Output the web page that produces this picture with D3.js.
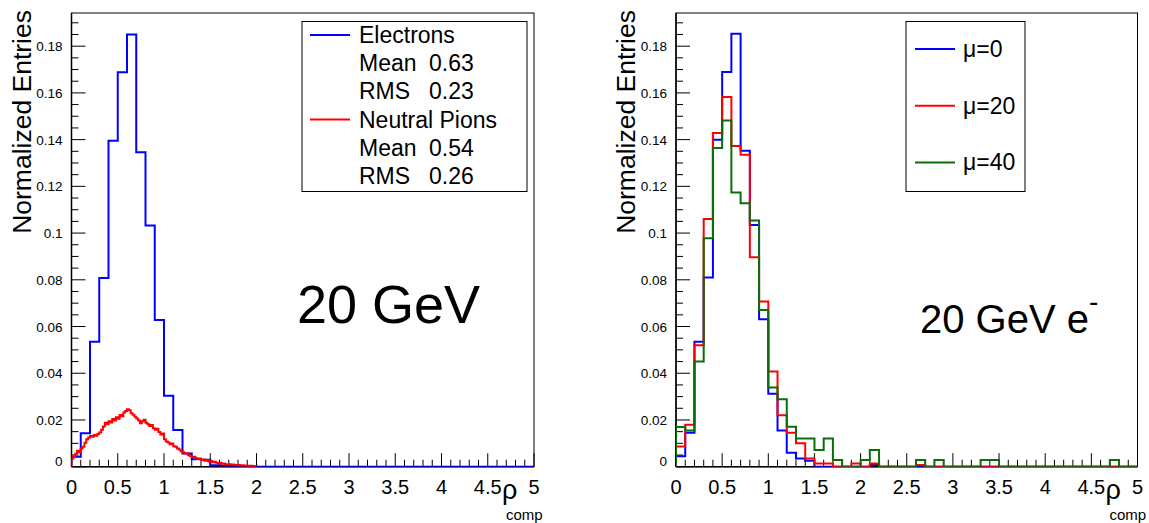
<!DOCTYPE html>
<html>
<head>
<meta charset="utf-8">
<script src="https://cdn.jsdelivr.net/npm/d3@7"></script>
<style>
  html, body { margin: 0; padding: 0; background: #fff; }
  svg { display: block; }
  text { font-family: "Liberation Sans", Arial, Helvetica, sans-serif; fill: #000; }
</style>
</head>
<body>
<svg id="chart" width="1149" height="523"></svg>
<script>
// Histogram binning (coarse: 0.1 wide over 0..5, fine: 0.02 wide over 0..2)
const coarseStart = 0, coarseWidth = 0.1;
const fineStart = 0, fineWidth = 0.02;

// Left panel: electrons (0.1 bins)
const electrons = [0.0043,0.0143,0.0535,0.0808,0.1395,0.1688,0.1850,0.1346,0.1032,0.0628,
                   0.0304,0.0157,0.0057,0.0032,0.0030,0.0006,0.0005,0.0004,0.0003,0.0002,
                   0,0,0,0,0,0,0,0,0,0, 0,0,0,0,0,0,0,0,0,0, 0,0,0,0,0,0,0,0,0,0];

// Left panel: neutral pions (0.02 bins, 0..2)
const neutralPions = [
  0.0035,0.0042,0.0055,0.0068,0.0062,0.0078,0.0085,0.0102,0.0118,0.0125,
  0.0131,0.0128,0.0136,0.0133,0.0140,0.0146,0.0158,0.0172,0.0188,0.0182,
  0.0195,0.0189,0.0204,0.0198,0.0212,0.0205,0.0221,0.0216,0.0232,0.0238,
  0.0246,0.0242,0.0229,0.0222,0.0214,0.0206,0.0198,0.0186,0.0195,0.0201,
  0.0188,0.0182,0.0174,0.0178,0.0165,0.0158,0.0162,0.0149,0.0138,0.0142,
  0.0118,0.0108,0.0104,0.0096,0.0099,0.0088,0.0085,0.0078,0.0074,0.0066,
  0.0062,0.0057,0.0058,0.0049,0.0046,0.0041,0.0043,0.0036,0.0033,0.0035,
  0.0029,0.0031,0.0026,0.0028,0.0022,0.0024,0.0019,0.0021,0.0017,0.0015,
  0.0017,0.0013,0.0014,0.0011,0.0010,0.0011,0.0008,0.0009,0.0007,0.0006,
  0.0007,0.0005,0.0006,0.0004,0.0005,0.0004,0.0003,0.0004,0.0003,0.0002];

// Right panel: electrons at different pile-up (0.1 bins)
const mu0  = [0.0045,0.0145,0.0535,0.0810,0.1399,0.1689,0.1853,0.1352,0.1035,0.0631,
              0.0312,0.0155,0.0060,0.0035,0.0025,0,0,0,0,0,
              0,0.0007,0,0,0,0,0,0,0,0, 0,0,0,0,0,0,0,0,0,0, 0,0,0,0,0,0,0,0,0,0];
const mu20 = [0.0086,0.0180,0.0520,0.1060,0.1428,0.1582,0.1373,0.1335,0.0897,0.0707,
              0.0407,0.0220,0.0145,0.0100,0.0035,0.0014,0.0014,0,0,0.0014,
              0,0.0014,0,0,0,0,0.0007,0,0,0, 0,0,0,0,0,0,0,0,0,0, 0,0,0,0,0,0,0,0,0,0];
const mu40 = [0.0170,0.0155,0.0450,0.0978,0.1364,0.1482,0.1174,0.1128,0.1054,0.0671,
              0.0339,0.0289,0.0171,0.0121,0.0121,0.0071,0.0121,0.0029,0,0,
              0.0029,0.0071,0,0,0,0,0.0029,0,0.0029,0, 0,0,0,0.0029,0.0029,0,0,0,0,0,
              0,0,0,0,0,0,0,0.0029,0,0];

const xTicks = [0, 0.5, 1, 1.5, 2, 2.5, 3, 3.5, 4, 4.5, 5];
const xTickLabels = ["0", "0.5", "1", "1.5", "2", "2.5", "3", "3.5", "4", "4.5", "5"];
const yTicks = [0.02, 0.04, 0.06, 0.08, 0.1, 0.12, 0.14, 0.16, 0.18];
const yTickLabels = ["0.02", "0.04", "0.06", "0.08", "0.1", "0.12", "0.14", "0.16", "0.18"];

const leftLegend = [
  { label: "Electrons", color: "#0000ff", stats: [["Mean", "0.63"], ["RMS", "0.23"]] },
  { label: "Neutral Pions", color: "#ff0000", stats: [["Mean", "0.54"], ["RMS", "0.26"]] }
];
const rightLegend = [
  { label: "\u03bc=0", color: "#0000ff" },
  { label: "\u03bc=20", color: "#ff0000" },
  { label: "\u03bc=40", color: "#0a6e0a" }
];

const svg = d3.select("#chart");
svg.append("rect").attr("width", 1149).attr("height", 523).attr("fill", "#fff");

const yMax = 0.1942;
const plotTop = 13, plotBottom = 466.7;

function makePanel(id, left, right) {
  const x = d3.scaleLinear().domain([0, 5]).range([left, right]);
  const y = d3.scaleLinear().domain([0, yMax]).range([plotBottom, plotTop]);
  const g = svg.append("g").attr("id", id);

  g.append("clipPath").attr("id", id + "-clip")
    .append("rect").attr("x", left).attr("y", plotTop)
    .attr("width", right - left).attr("height", plotBottom - plotTop);

  // frame
  g.append("rect").attr("x", left).attr("y", plotTop)
    .attr("width", right - left).attr("height", plotBottom - plotTop)
    .attr("fill", "none").attr("stroke", "#000").attr("stroke-width", 1);

  // x axis: ticks inside the frame, labels below
  const minorX = d3.range(0, 50.5, 1).map(d => d / 10);
  g.append("g").selectAll("line").data(minorX).join("line")
    .attr("x1", d => x(d)).attr("x2", d => x(d))
    .attr("y1", plotBottom)
    .attr("y2", d => plotBottom - (Math.abs(d * 2 - Math.round(d * 2)) < 1e-6 ? 13.5 : 7))
    .attr("stroke", "#000").attr("stroke-width", 1);
  g.append("g").selectAll("text").data(xTicks).join("text")
    .attr("x", d => x(d)).attr("y", 494)
    .attr("text-anchor", "middle").attr("font-size", 20)
    .text((d, i) => xTickLabels[i]);

  // y axis: ticks inside the frame, labels left
  const minorY = d3.range(0, 39, 1).map(d => d * 0.005).filter(d => d <= yMax);
  g.append("g").selectAll("line").data(minorY).join("line")
    .attr("x1", left)
    .attr("x2", (d, i) => left + (i % 4 === 0 ? 14 : 7))
    .attr("y1", d => y(d)).attr("y2", d => y(d))
    .attr("stroke", "#000").attr("stroke-width", 1);
  g.append("g").selectAll("text").data(yTicks).join("text")
    .attr("x", left - 9).attr("y", d => y(d) + 5)
    .attr("text-anchor", "end").attr("font-size", 13.5)
    .text((d, i) => yTickLabels[i]);
  g.append("text").attr("x", left - 9).attr("y", plotBottom - 1)
    .attr("text-anchor", "end").attr("font-size", 13.5).text("0");

  // axis lines
  g.append("line").attr("x1", left).attr("x2", left).attr("y1", plotTop).attr("y2", plotBottom)
    .attr("stroke", "#000").attr("stroke-width", 1.5);
  g.append("line").attr("x1", left).attr("x2", right).attr("y1", plotBottom).attr("y2", plotBottom)
    .attr("stroke", "#000").attr("stroke-width", 1.5);

  // axis titles
  const yTitleX = left - 41;
  g.append("text")
    .attr("transform", `translate(${yTitleX},${plotTop - 3}) rotate(-90)`)
    .attr("text-anchor", "end").attr("font-size", 26.5)
    .text("Normalized Entries");
  // x title: rho with a "comp" subscript
  g.append("text").attr("x", right - 32).attr("y", 499).attr("font-size", 27).text("\u03c1");
  g.append("text").attr("x", right - 28).attr("y", 520).attr("font-size", 15).text("comp");

  return { g, x, y, clip: `url(#${id}-clip)` };
}

function drawHist(panel, start, width, values, color) {
  const { x, y } = panel;
  const path = d3.path();
  path.moveTo(x(start), y(0));
  values.forEach((v, i) => {
    path.lineTo(x(start + i * width), y(v));
    path.lineTo(x(start + (i + 1) * width), y(v));
  });
  panel.g.append("path")
    .attr("d", path.toString())
    .attr("fill", "none")
    .attr("stroke", color)
    .attr("stroke-width", 2)
    .attr("stroke-linejoin", "miter")
    .attr("clip-path", panel.clip);
}

// ---------- left panel ----------
const L = makePanel("left", 71.5, 534);
drawHist(L, coarseStart, coarseWidth, electrons, "#0000ff");
drawHist(L, fineStart, fineWidth, neutralPions, "#ff0000");

// legend with statistics
const lg = L.g.append("g");
lg.append("rect").attr("x", 302).attr("y", 21.5).attr("width", 225).attr("height", 170)
  .attr("fill", "#fff").attr("stroke", "#000").attr("stroke-width", 1);
let row = 0;
leftLegend.forEach(entry => {
  const yy = 35 + row * 28.2;
  lg.append("line").attr("x1", 310).attr("x2", 350).attr("y1", yy).attr("y2", yy)
    .attr("stroke", entry.color).attr("stroke-width", 2);
  lg.append("text").attr("x", 359).attr("y", yy + 8).attr("font-size", 23).text(entry.label);
  row++;
  entry.stats.forEach(s => {
    const sy = 35 + row * 28.2 + 8;
    lg.append("text").attr("x", 359).attr("y", sy).attr("font-size", 23).text(s[0]);
    lg.append("text").attr("x", 429).attr("y", sy).attr("font-size", 23).text(s[1]);
    row++;
  });
});

L.g.append("text").attr("x", 297).attr("y", 323).attr("font-size", 54).text("20 GeV");

// ---------- right panel ----------
const R = makePanel("right", 676, 1137.5);
drawHist(R, coarseStart, coarseWidth, mu0, "#0000ff");
drawHist(R, coarseStart, coarseWidth, mu20, "#ff0000");
drawHist(R, coarseStart, coarseWidth, mu40, "#0a6e0a");

const rg = R.g.append("g");
rg.append("rect").attr("x", 906).attr("y", 21.5).attr("width", 119).attr("height", 170)
  .attr("fill", "#fff").attr("stroke", "#000").attr("stroke-width", 1);
rightLegend.forEach((entry, i) => {
  const yy = 49 + i * 56.7;
  rg.append("line").attr("x1", 915).attr("x2", 955).attr("y1", yy).attr("y2", yy)
    .attr("stroke", entry.color).attr("stroke-width", 2);
  rg.append("text").attr("x", 963).attr("y", yy + 8).attr("font-size", 23).text(entry.label);
});

const big = R.g.append("text").attr("x", 920).attr("y", 333).attr("font-size", 40);
big.append("tspan").text("20 GeV e");
big.append("tspan").attr("font-size", 28).attr("dy", -22).attr("dx", 0).text("-");
</script>
</body>
</html>
